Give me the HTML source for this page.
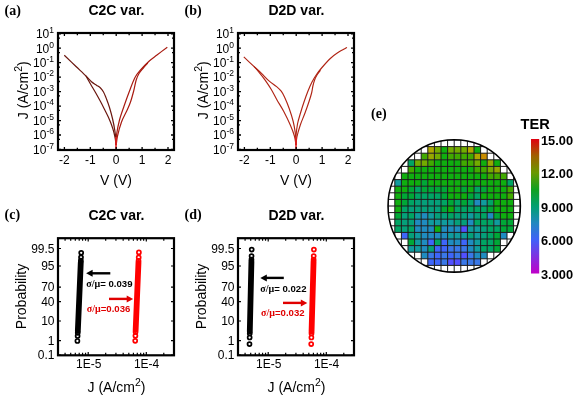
<!DOCTYPE html><html><head><meta charset="utf-8"><style>html,body{margin:0;padding:0;background:#fff;overflow:hidden}svg{display:block;will-change:transform}</style></head><body>
<svg width="575" height="396" viewBox="0 0 575 396">
<rect width="575" height="396" fill="#fff"/>
<text x="4.5" y="14.8" font-family='"Liberation Serif", serif' font-weight="bold" font-size="14">(a)</text>
<text x="116.5" y="14.6" font-family='"Liberation Sans", sans-serif' font-weight="bold" font-size="14" text-anchor="middle">C2C var.</text>
<g fill="none" stroke="#7a140c" stroke-width="1.2" stroke-linejoin="round">
<path d="M64.3,55.3 C66.25,57.17 72.38,63.05 76,66.5 C79.62,69.95 83.42,73.45 86,76 C88.58,78.55 89.75,80.27 91.5,81.8 C93.25,83.33 95,84.17 96.5,85.2 C98,86.23 99.33,86.87 100.5,88 C101.67,89.13 102.5,90.17 103.5,92 C104.5,93.83 105.5,96.42 106.5,99 C107.5,101.58 108.48,104.17 109.5,107.5 C110.52,110.83 111.7,115.08 112.6,119 C113.5,122.92 114.35,127.5 114.9,131 C115.45,134.5 115.72,137.67 115.9,140 C116.08,142.33 115.98,144.17 116,145" stroke="#6a160e"/>
<path d="M86,76 C86.75,77.33 88.92,81.25 90.5,84 C92.08,86.75 93.83,89.58 95.5,92.5 C97.17,95.42 98.98,98.67 100.5,101.5 C102.02,104.33 103.3,106.92 104.6,109.5 C105.9,112.08 107.17,114.5 108.3,117 C109.43,119.5 110.48,122 111.4,124.5 C112.32,127 113.15,129.58 113.8,132 C114.45,134.42 114.93,136.83 115.3,139 C115.67,141.17 115.88,144 116,145" stroke="#6a160e"/>
<path d="M116,145 C116.1,143.23 116.02,138.57 116.6,134.4 C117.18,130.23 118.28,124.65 119.5,120 C120.72,115.35 122.23,111.33 123.9,106.5 C125.57,101.67 127.65,95.83 129.5,91 C131.35,86.17 133.08,81.08 135,77.5 C136.92,73.92 138.62,72.25 141,69.5 C143.38,66.75 146.63,63.42 149.3,61 C151.97,58.58 154,57.3 157,55 C160,52.7 165.58,48.5 167.3,47.2" stroke="#a81a10"/>
<path d="M116.2,145 C116.42,143.5 116.62,139.83 117.5,136 C118.38,132.17 119.97,126.17 121.5,122 C123.03,117.83 125.2,114.33 126.7,111 C128.2,107.67 129.32,105.42 130.5,102 C131.68,98.58 132.85,94.17 133.8,90.5 C134.75,86.83 135.33,82.83 136.2,80 C137.07,77.17 137.82,75.5 139,73.5 C140.18,71.5 141.83,69.75 143.3,68 C144.77,66.25 147.05,63.83 147.8,63" stroke="#a81a10"/>
<line x1="116" y1="137" x2="116" y2="150" stroke="#e02020" stroke-width="1.6"/>
</g>
<path d="M64.4,150 v-3 M64.4,33 v3 M77.35,150 v-2.2 M77.35,33 v2.2 M90.3,150 v-3 M90.3,33 v3 M103.25,150 v-2.2 M103.25,33 v2.2 M116.2,150 v-3 M116.2,33 v3 M129.15,150 v-2.2 M129.15,33 v2.2 M142.1,150 v-3 M142.1,33 v3 M155.05,150 v-2.2 M155.05,33 v2.2 M168,150 v-3 M168,33 v3 M58,149.49 h3 M174,149.49 h-3 M58,139.38 h2 M174,139.38 h-2 M58,135.02 h3 M174,135.02 h-3 M58,124.91 h2 M174,124.91 h-2 M58,120.55 h3 M174,120.55 h-3 M58,110.44 h2 M174,110.44 h-2 M58,106.08 h3 M174,106.08 h-3 M58,95.97 h2 M174,95.97 h-2 M58,91.61 h3 M174,91.61 h-3 M58,81.5 h2 M174,81.5 h-2 M58,77.14 h3 M174,77.14 h-3 M58,67.03 h2 M174,67.03 h-2 M58,62.67 h3 M174,62.67 h-3 M58,52.56 h2 M174,52.56 h-2 M58,48.2 h3 M174,48.2 h-3 M58,38.09 h2 M174,38.09 h-2 M58,33.73 h3 M174,33.73 h-3" stroke="#000" stroke-width="1.3" fill="none"/>
<rect x="58" y="33" width="116" height="117" fill="none" stroke="#000" stroke-width="2.2"/>
<text x="64.4" y="163.5" font-family='"Liberation Sans", sans-serif' font-size="12" text-anchor="middle">-2</text>
<text x="90.3" y="163.5" font-family='"Liberation Sans", sans-serif' font-size="12" text-anchor="middle">-1</text>
<text x="116.2" y="163.5" font-family='"Liberation Sans", sans-serif' font-size="12" text-anchor="middle">0</text>
<text x="142.1" y="163.5" font-family='"Liberation Sans", sans-serif' font-size="12" text-anchor="middle">1</text>
<text x="168" y="163.5" font-family='"Liberation Sans", sans-serif' font-size="12" text-anchor="middle">2</text>
<text x="54" y="153.79" font-family='"Liberation Sans", sans-serif' font-size="12" text-anchor="end">10<tspan font-size="8.5" dy="-5">-7</tspan></text>
<text x="54" y="139.32" font-family='"Liberation Sans", sans-serif' font-size="12" text-anchor="end">10<tspan font-size="8.5" dy="-5">-6</tspan></text>
<text x="54" y="124.85" font-family='"Liberation Sans", sans-serif' font-size="12" text-anchor="end">10<tspan font-size="8.5" dy="-5">-5</tspan></text>
<text x="54" y="110.38" font-family='"Liberation Sans", sans-serif' font-size="12" text-anchor="end">10<tspan font-size="8.5" dy="-5">-4</tspan></text>
<text x="54" y="95.91" font-family='"Liberation Sans", sans-serif' font-size="12" text-anchor="end">10<tspan font-size="8.5" dy="-5">-3</tspan></text>
<text x="54" y="81.44" font-family='"Liberation Sans", sans-serif' font-size="12" text-anchor="end">10<tspan font-size="8.5" dy="-5">-2</tspan></text>
<text x="54" y="66.97" font-family='"Liberation Sans", sans-serif' font-size="12" text-anchor="end">10<tspan font-size="8.5" dy="-5">-1</tspan></text>
<text x="54" y="52.5" font-family='"Liberation Sans", sans-serif' font-size="12" text-anchor="end">10<tspan font-size="8.5" dy="-5">0</tspan></text>
<text x="54" y="38.03" font-family='"Liberation Sans", sans-serif' font-size="12" text-anchor="end">10<tspan font-size="8.5" dy="-5">1</tspan></text>
<text x="116" y="185" font-family='"Liberation Sans", sans-serif' font-size="14" text-anchor="middle">V (V)</text>
<text transform="translate(28.3,90.2) rotate(-90)" font-family='"Liberation Sans", sans-serif' font-size="14" text-anchor="middle">J (A/cm<tspan font-size="10.5" dy="-6">2</tspan><tspan dy="6">)</tspan></text>
<text x="184.5" y="14.8" font-family='"Liberation Serif", serif' font-weight="bold" font-size="14">(b)</text>
<text x="296.5" y="14.6" font-family='"Liberation Sans", sans-serif' font-weight="bold" font-size="14" text-anchor="middle">D2D var.</text>
<g fill="none" stroke="#b02414" stroke-width="1.15" stroke-linejoin="round">
<path d="M243.8,56.9 C245.48,58.48 250.95,63.65 253.9,66.4 C256.85,69.15 258.98,70.98 261.5,73.4 C264.02,75.82 266.48,78.7 269,80.9 C271.52,83.1 274.57,84.88 276.6,86.6 C278.63,88.32 279.88,89.47 281.2,91.2 C282.52,92.93 283.17,94.12 284.5,97 C285.83,99.88 287.75,104.42 289.2,108.5 C290.65,112.58 292.18,117.42 293.2,121.5 C294.22,125.58 294.85,129.92 295.3,133 C295.75,136.08 295.78,138 295.9,140 C296.02,142 295.98,144.17 296,145"/>
<path d="M253.9,66.4 C254.73,67.35 257,69.78 258.9,72.1 C260.8,74.42 263.23,77.4 265.3,80.3 C267.37,83.2 269.35,86.22 271.3,89.5 C273.25,92.78 274.9,96.3 277,100 C279.1,103.7 281.68,107.53 283.9,111.7 C286.12,115.87 288.55,120.95 290.3,125 C292.05,129.05 293.45,132.67 294.4,136 C295.35,139.33 295.73,143.5 296,145"/>
<path d="M295.8,145 C295.82,143.67 295.62,140.5 295.9,137 C296.18,133.5 296.73,128 297.5,124 C298.27,120 299.42,116.67 300.5,113 C301.58,109.33 302.75,105.67 304,102 C305.25,98.33 306.67,94.33 308,91 C309.33,87.67 310.58,84.75 312,82 C313.42,79.25 314.83,76.92 316.5,74.5 C318.17,72.08 319.7,70.17 322,67.5 C324.3,64.83 327.63,61 330.3,58.5 C332.97,56 335.22,54.32 338,52.5 C340.78,50.68 345.5,48.42 347,47.6"/>
<path d="M296.2,145 C296.32,143.67 296.22,140.33 296.9,137 C297.58,133.67 298.95,129 300.3,125 C301.65,121 303.52,117 305,113 C306.48,109 308.1,104.33 309.2,101 C310.3,97.67 310.98,95.5 311.6,93 C312.22,90.5 312.4,88.17 312.9,86 C313.4,83.83 313.92,81.83 314.6,80 C315.28,78.17 316.02,76.62 317,75 C317.98,73.38 319.92,71.08 320.5,70.3"/>
<line x1="296" y1="137" x2="296" y2="150" stroke="#e02020" stroke-width="1.6"/>
</g>
<path d="M244.4,150 v-3 M244.4,33 v3 M257.35,150 v-2.2 M257.35,33 v2.2 M270.3,150 v-3 M270.3,33 v3 M283.25,150 v-2.2 M283.25,33 v2.2 M296.2,150 v-3 M296.2,33 v3 M309.15,150 v-2.2 M309.15,33 v2.2 M322.1,150 v-3 M322.1,33 v3 M335.05,150 v-2.2 M335.05,33 v2.2 M348,150 v-3 M348,33 v3 M238,149.49 h3 M354,149.49 h-3 M238,139.38 h2 M354,139.38 h-2 M238,135.02 h3 M354,135.02 h-3 M238,124.91 h2 M354,124.91 h-2 M238,120.55 h3 M354,120.55 h-3 M238,110.44 h2 M354,110.44 h-2 M238,106.08 h3 M354,106.08 h-3 M238,95.97 h2 M354,95.97 h-2 M238,91.61 h3 M354,91.61 h-3 M238,81.5 h2 M354,81.5 h-2 M238,77.14 h3 M354,77.14 h-3 M238,67.03 h2 M354,67.03 h-2 M238,62.67 h3 M354,62.67 h-3 M238,52.56 h2 M354,52.56 h-2 M238,48.2 h3 M354,48.2 h-3 M238,38.09 h2 M354,38.09 h-2 M238,33.73 h3 M354,33.73 h-3" stroke="#000" stroke-width="1.3" fill="none"/>
<rect x="238" y="33" width="116" height="117" fill="none" stroke="#000" stroke-width="2.2"/>
<text x="244.4" y="163.5" font-family='"Liberation Sans", sans-serif' font-size="12" text-anchor="middle">-2</text>
<text x="270.3" y="163.5" font-family='"Liberation Sans", sans-serif' font-size="12" text-anchor="middle">-1</text>
<text x="296.2" y="163.5" font-family='"Liberation Sans", sans-serif' font-size="12" text-anchor="middle">0</text>
<text x="322.1" y="163.5" font-family='"Liberation Sans", sans-serif' font-size="12" text-anchor="middle">1</text>
<text x="348" y="163.5" font-family='"Liberation Sans", sans-serif' font-size="12" text-anchor="middle">2</text>
<text x="234" y="153.79" font-family='"Liberation Sans", sans-serif' font-size="12" text-anchor="end">10<tspan font-size="8.5" dy="-5">-7</tspan></text>
<text x="234" y="139.32" font-family='"Liberation Sans", sans-serif' font-size="12" text-anchor="end">10<tspan font-size="8.5" dy="-5">-6</tspan></text>
<text x="234" y="124.85" font-family='"Liberation Sans", sans-serif' font-size="12" text-anchor="end">10<tspan font-size="8.5" dy="-5">-5</tspan></text>
<text x="234" y="110.38" font-family='"Liberation Sans", sans-serif' font-size="12" text-anchor="end">10<tspan font-size="8.5" dy="-5">-4</tspan></text>
<text x="234" y="95.91" font-family='"Liberation Sans", sans-serif' font-size="12" text-anchor="end">10<tspan font-size="8.5" dy="-5">-3</tspan></text>
<text x="234" y="81.44" font-family='"Liberation Sans", sans-serif' font-size="12" text-anchor="end">10<tspan font-size="8.5" dy="-5">-2</tspan></text>
<text x="234" y="66.97" font-family='"Liberation Sans", sans-serif' font-size="12" text-anchor="end">10<tspan font-size="8.5" dy="-5">-1</tspan></text>
<text x="234" y="52.5" font-family='"Liberation Sans", sans-serif' font-size="12" text-anchor="end">10<tspan font-size="8.5" dy="-5">0</tspan></text>
<text x="234" y="38.03" font-family='"Liberation Sans", sans-serif' font-size="12" text-anchor="end">10<tspan font-size="8.5" dy="-5">1</tspan></text>
<text x="296" y="185" font-family='"Liberation Sans", sans-serif' font-size="14" text-anchor="middle">V (V)</text>
<text transform="translate(208.3,90.2) rotate(-90)" font-family='"Liberation Sans", sans-serif' font-size="14" text-anchor="middle">J (A/cm<tspan font-size="10.5" dy="-6">2</tspan><tspan dy="6">)</tspan></text>
<text x="4.5" y="219.3" font-family='"Liberation Serif", serif' font-weight="bold" font-size="14">(c)</text>
<text x="116.5" y="220" font-family='"Liberation Sans", sans-serif' font-weight="bold" font-size="14" text-anchor="middle">C2C var.</text>
<path d="M58,355.02 h3 M174,355.02 h-3 M58,340.66 h3 M174,340.66 h-3 M58,321.02 h3 M174,321.02 h-3 M58,301.69 h3 M174,301.69 h-3 M58,287.07 h3 M174,287.07 h-3 M58,266 h3 M174,266 h-3 M58,248.5 h3 M174,248.5 h-3 M65.08,355.3 v-2.5 M65.08,238.2 v2.5 M70.71,355.3 v-2.5 M70.71,238.2 v2.5 M75.31,355.3 v-2.5 M75.31,238.2 v2.5 M79.2,355.3 v-2.5 M79.2,238.2 v2.5 M82.57,355.3 v-2.5 M82.57,238.2 v2.5 M85.54,355.3 v-2.5 M85.54,238.2 v2.5 M88.2,355.3 v-3.2 M88.2,238.2 v3.2 M105.69,355.3 v-2.5 M105.69,238.2 v2.5 M115.92,355.3 v-2.5 M115.92,238.2 v2.5 M123.18,355.3 v-2.5 M123.18,238.2 v2.5 M128.81,355.3 v-2.5 M128.81,238.2 v2.5 M133.41,355.3 v-2.5 M133.41,238.2 v2.5 M137.3,355.3 v-2.5 M137.3,238.2 v2.5 M140.67,355.3 v-2.5 M140.67,238.2 v2.5 M143.64,355.3 v-2.5 M143.64,238.2 v2.5 M146.3,355.3 v-3.2 M146.3,238.2 v3.2 M163.79,355.3 v-2.5 M163.79,238.2 v2.5" stroke="#000" stroke-width="1.2" fill="none"/>
<rect x="58" y="238.2" width="116" height="117.1" fill="none" stroke="#000" stroke-width="2.2"/>
<text x="54.5" y="359.32" font-family='"Liberation Sans", sans-serif' font-size="12" text-anchor="end">0.1</text>
<text x="54.5" y="344.96" font-family='"Liberation Sans", sans-serif' font-size="12" text-anchor="end">1</text>
<text x="54.5" y="325.32" font-family='"Liberation Sans", sans-serif' font-size="12" text-anchor="end">10</text>
<text x="54.5" y="305.99" font-family='"Liberation Sans", sans-serif' font-size="12" text-anchor="end">40</text>
<text x="54.5" y="291.37" font-family='"Liberation Sans", sans-serif' font-size="12" text-anchor="end">70</text>
<text x="54.5" y="270.3" font-family='"Liberation Sans", sans-serif' font-size="12" text-anchor="end">95</text>
<text x="54.5" y="252.8" font-family='"Liberation Sans", sans-serif' font-size="12" text-anchor="end">99.5</text>
<text x="88.7" y="368.3" font-family='"Liberation Sans", sans-serif' font-size="12" text-anchor="middle">1E-5</text>
<text x="146.6" y="368.3" font-family='"Liberation Sans", sans-serif' font-size="12" text-anchor="middle">1E-4</text>
<text x="116.5" y="392" font-family='"Liberation Sans", sans-serif' font-size="14" text-anchor="middle">J (A/cm<tspan font-size="10.5" dy="-6">2</tspan><tspan dy="6">)</tspan></text>
<text transform="translate(25.6,296.5) rotate(-90)" font-family='"Liberation Sans", sans-serif' font-size="14" text-anchor="middle">Probability</text>
<g fill="none" stroke="#000" stroke-width="1.7"><circle cx="81.2" cy="252.8" r="2.0"/><circle cx="81.01" cy="257.3" r="2.0"/><circle cx="80.86" cy="260.7" r="2.0"/><circle cx="77.4" cy="341" r="2.0"/><circle cx="77.62" cy="336" r="2.0"/><circle cx="77.75" cy="332.8" r="2.0"/><path d="M80.77,262.7 L77.84,330.8" stroke-width="5.8" stroke-linecap="round"/></g>
<g fill="none" stroke="#f00" stroke-width="1.7"><circle cx="138.9" cy="252.4" r="2.0"/><circle cx="138.69" cy="257.4" r="2.0"/><circle cx="138.54" cy="260.9" r="2.0"/><circle cx="135.2" cy="340.8" r="2.0"/><circle cx="135.41" cy="335.8" r="2.0"/><circle cx="135.57" cy="332" r="2.0"/><path d="M138.46,262.9 L135.65,330" stroke-width="5.8" stroke-linecap="round"/></g>
<path d="M110.3,273.3 H91.1" stroke="#000" stroke-width="2.4"/>
<path d="M86.1,273.3 L92.6,269.8 L92.6,276.8 Z" fill="#000"/>
<path d="M109,298.9 H128.2" stroke="#e00000" stroke-width="2.4"/>
<path d="M133.2,298.9 L126.7,295.4 L126.7,302.4 Z" fill="#e00000"/>
<text x="86.3" y="287.1" font-family='"Liberation Sans", sans-serif' font-size="9.6" font-weight="bold" fill="#000"><tspan font-family='"Liberation Serif", serif' font-size="10">σ/μ</tspan>= 0.039</text>
<text x="86.8" y="311.9" font-family='"Liberation Sans", sans-serif' font-size="9.6" font-weight="bold" fill="#e00000"><tspan font-family='"Liberation Serif", serif' font-size="10">σ/μ</tspan>=0.036</text>
<text x="184.5" y="219.3" font-family='"Liberation Serif", serif' font-weight="bold" font-size="14">(d)</text>
<text x="296.5" y="220" font-family='"Liberation Sans", sans-serif' font-weight="bold" font-size="14" text-anchor="middle">D2D var.</text>
<path d="M238,355.02 h3 M354,355.02 h-3 M238,340.66 h3 M354,340.66 h-3 M238,321.02 h3 M354,321.02 h-3 M238,301.69 h3 M354,301.69 h-3 M238,287.07 h3 M354,287.07 h-3 M238,266 h3 M354,266 h-3 M238,248.5 h3 M354,248.5 h-3 M245.08,355.3 v-2.5 M245.08,238.2 v2.5 M250.71,355.3 v-2.5 M250.71,238.2 v2.5 M255.31,355.3 v-2.5 M255.31,238.2 v2.5 M259.2,355.3 v-2.5 M259.2,238.2 v2.5 M262.57,355.3 v-2.5 M262.57,238.2 v2.5 M265.54,355.3 v-2.5 M265.54,238.2 v2.5 M268.2,355.3 v-3.2 M268.2,238.2 v3.2 M285.69,355.3 v-2.5 M285.69,238.2 v2.5 M295.92,355.3 v-2.5 M295.92,238.2 v2.5 M303.18,355.3 v-2.5 M303.18,238.2 v2.5 M308.81,355.3 v-2.5 M308.81,238.2 v2.5 M313.41,355.3 v-2.5 M313.41,238.2 v2.5 M317.3,355.3 v-2.5 M317.3,238.2 v2.5 M320.67,355.3 v-2.5 M320.67,238.2 v2.5 M323.64,355.3 v-2.5 M323.64,238.2 v2.5 M326.3,355.3 v-3.2 M326.3,238.2 v3.2 M343.79,355.3 v-2.5 M343.79,238.2 v2.5" stroke="#000" stroke-width="1.2" fill="none"/>
<rect x="238" y="238.2" width="116" height="117.1" fill="none" stroke="#000" stroke-width="2.2"/>
<text x="234.5" y="359.32" font-family='"Liberation Sans", sans-serif' font-size="12" text-anchor="end">0.1</text>
<text x="234.5" y="344.96" font-family='"Liberation Sans", sans-serif' font-size="12" text-anchor="end">1</text>
<text x="234.5" y="325.32" font-family='"Liberation Sans", sans-serif' font-size="12" text-anchor="end">10</text>
<text x="234.5" y="305.99" font-family='"Liberation Sans", sans-serif' font-size="12" text-anchor="end">40</text>
<text x="234.5" y="291.37" font-family='"Liberation Sans", sans-serif' font-size="12" text-anchor="end">70</text>
<text x="234.5" y="270.3" font-family='"Liberation Sans", sans-serif' font-size="12" text-anchor="end">95</text>
<text x="234.5" y="252.8" font-family='"Liberation Sans", sans-serif' font-size="12" text-anchor="end">99.5</text>
<text x="268.7" y="368.3" font-family='"Liberation Sans", sans-serif' font-size="12" text-anchor="middle">1E-5</text>
<text x="326.6" y="368.3" font-family='"Liberation Sans", sans-serif' font-size="12" text-anchor="middle">1E-4</text>
<text x="296.5" y="392" font-family='"Liberation Sans", sans-serif' font-size="14" text-anchor="middle">J (A/cm<tspan font-size="10.5" dy="-6">2</tspan><tspan dy="6">)</tspan></text>
<text transform="translate(205.6,296.5) rotate(-90)" font-family='"Liberation Sans", sans-serif' font-size="14" text-anchor="middle">Probability</text>
<g fill="none" stroke="#000" stroke-width="1.7"><circle cx="251.7" cy="249.6" r="2.0"/><circle cx="251.55" cy="256.1" r="2.0"/><circle cx="251.47" cy="259.6" r="2.0"/><circle cx="249.5" cy="344.1" r="2.0"/><circle cx="249.65" cy="337.5" r="2.0"/><circle cx="249.75" cy="333.4" r="2.0"/><path d="M251.42,261.6 L249.8,331.4" stroke-width="5.8" stroke-linecap="round"/></g>
<g fill="none" stroke="#f00" stroke-width="1.7"><circle cx="313.9" cy="249.6" r="2.0"/><circle cx="313.71" cy="256.1" r="2.0"/><circle cx="313.61" cy="259.6" r="2.0"/><circle cx="311.2" cy="344.1" r="2.0"/><circle cx="311.39" cy="337.5" r="2.0"/><circle cx="311.51" cy="333.4" r="2.0"/><path d="M313.56,261.6 L311.56,331.4" stroke-width="5.8" stroke-linecap="round"/></g>
<path d="M283.8,277.9 H265.3" stroke="#000" stroke-width="2.4"/>
<path d="M260.3,277.9 L266.8,274.4 L266.8,281.4 Z" fill="#000"/>
<path d="M283,302.9 H302.3" stroke="#e00000" stroke-width="2.4"/>
<path d="M307.3,302.9 L300.8,299.4 L300.8,306.4 Z" fill="#e00000"/>
<text x="260.3" y="291.5" font-family='"Liberation Sans", sans-serif' font-size="9.6" font-weight="bold" fill="#000"><tspan font-family='"Liberation Serif", serif' font-size="10">σ/μ</tspan>= 0.022</text>
<text x="261.1" y="315.8" font-family='"Liberation Sans", sans-serif' font-size="9.6" font-weight="bold" fill="#e00000"><tspan font-family='"Liberation Serif", serif' font-size="10">σ/μ</tspan>=0.032</text>
<defs><clipPath id="wc"><circle cx="454.2" cy="206" r="66.2"/></clipPath>
<linearGradient id="cb" x1="0" y1="1" x2="0" y2="0"><stop offset="0" stop-color="#c000c8"/><stop offset="0.125" stop-color="#8030e0"/><stop offset="0.25" stop-color="#4060f8"/><stop offset="0.375" stop-color="#2088c0"/><stop offset="0.5" stop-color="#00a070"/><stop offset="0.625" stop-color="#10a020"/><stop offset="0.75" stop-color="#6a9800"/><stop offset="0.875" stop-color="#a06000"/><stop offset="1" stop-color="#e00010"/></linearGradient></defs>
<g clip-path="url(#wc)">
<circle cx="454.2" cy="206" r="66.2" fill="#fff"/>
<rect x="427.8" y="146.6" width="6.6" height="6.6" fill="#afa800"/><rect x="434.4" y="146.6" width="6.6" height="6.6" fill="#73ac00"/><rect x="441" y="146.6" width="6.6" height="6.6" fill="#0faf0f"/><rect x="447.6" y="146.6" width="6.6" height="6.6" fill="#73ac00"/><rect x="454.2" y="146.6" width="6.6" height="6.6" fill="#73ac00"/><rect x="460.8" y="146.6" width="6.6" height="6.6" fill="#73ac00"/><rect x="467.4" y="146.6" width="6.6" height="6.6" fill="#afa800"/><rect x="474" y="146.6" width="6.6" height="6.6" fill="#0faf0f"/><rect x="421.2" y="153.2" width="6.6" height="6.6" fill="#41aa00"/><rect x="427.8" y="153.2" width="6.6" height="6.6" fill="#96a800"/><rect x="434.4" y="153.2" width="6.6" height="6.6" fill="#73ac00"/><rect x="441" y="153.2" width="6.6" height="6.6" fill="#0faf0f"/><rect x="447.6" y="153.2" width="6.6" height="6.6" fill="#41aa00"/><rect x="454.2" y="153.2" width="6.6" height="6.6" fill="#41aa00"/><rect x="460.8" y="153.2" width="6.6" height="6.6" fill="#41aa00"/><rect x="467.4" y="153.2" width="6.6" height="6.6" fill="#41aa00"/><rect x="474" y="153.2" width="6.6" height="6.6" fill="#afa800"/><rect x="480.6" y="153.2" width="6.6" height="6.6" fill="#c88c00"/><rect x="408" y="159.8" width="6.6" height="6.6" fill="#00a564"/><rect x="414.6" y="159.8" width="6.6" height="6.6" fill="#73ac00"/><rect x="421.2" y="159.8" width="6.6" height="6.6" fill="#73ac00"/><rect x="427.8" y="159.8" width="6.6" height="6.6" fill="#41aa00"/><rect x="434.4" y="159.8" width="6.6" height="6.6" fill="#0faf0f"/><rect x="441" y="159.8" width="6.6" height="6.6" fill="#0faf0f"/><rect x="447.6" y="159.8" width="6.6" height="6.6" fill="#0faf0f"/><rect x="454.2" y="159.8" width="6.6" height="6.6" fill="#0faf0f"/><rect x="460.8" y="159.8" width="6.6" height="6.6" fill="#41aa00"/><rect x="467.4" y="159.8" width="6.6" height="6.6" fill="#41aa00"/><rect x="474" y="159.8" width="6.6" height="6.6" fill="#73ac00"/><rect x="480.6" y="159.8" width="6.6" height="6.6" fill="#0faf0f"/><rect x="487.2" y="159.8" width="6.6" height="6.6" fill="#96a800"/><rect x="493.8" y="159.8" width="6.6" height="6.6" fill="#0faf0f"/><rect x="408" y="166.4" width="6.6" height="6.6" fill="#41aa00"/><rect x="414.6" y="166.4" width="6.6" height="6.6" fill="#0faf0f"/><rect x="421.2" y="166.4" width="6.6" height="6.6" fill="#0faf0f"/><rect x="427.8" y="166.4" width="6.6" height="6.6" fill="#0faf0f"/><rect x="434.4" y="166.4" width="6.6" height="6.6" fill="#0faf0f"/><rect x="441" y="166.4" width="6.6" height="6.6" fill="#0faf0f"/><rect x="447.6" y="166.4" width="6.6" height="6.6" fill="#0faf0f"/><rect x="454.2" y="166.4" width="6.6" height="6.6" fill="#0faf0f"/><rect x="460.8" y="166.4" width="6.6" height="6.6" fill="#0faf0f"/><rect x="467.4" y="166.4" width="6.6" height="6.6" fill="#0faf0f"/><rect x="474" y="166.4" width="6.6" height="6.6" fill="#41aa00"/><rect x="480.6" y="166.4" width="6.6" height="6.6" fill="#41aa00"/><rect x="487.2" y="166.4" width="6.6" height="6.6" fill="#73ac00"/><rect x="493.8" y="166.4" width="6.6" height="6.6" fill="#96a800"/><rect x="401.4" y="173" width="6.6" height="6.6" fill="#0faf0f"/><rect x="408" y="173" width="6.6" height="6.6" fill="#0faf0f"/><rect x="414.6" y="173" width="6.6" height="6.6" fill="#0faf0f"/><rect x="421.2" y="173" width="6.6" height="6.6" fill="#0faf0f"/><rect x="427.8" y="173" width="6.6" height="6.6" fill="#0faf0f"/><rect x="434.4" y="173" width="6.6" height="6.6" fill="#0faf0f"/><rect x="441" y="173" width="6.6" height="6.6" fill="#0faf0f"/><rect x="447.6" y="173" width="6.6" height="6.6" fill="#0faf0f"/><rect x="454.2" y="173" width="6.6" height="6.6" fill="#0faf0f"/><rect x="460.8" y="173" width="6.6" height="6.6" fill="#0faf0f"/><rect x="467.4" y="173" width="6.6" height="6.6" fill="#0faf0f"/><rect x="474" y="173" width="6.6" height="6.6" fill="#0faf0f"/><rect x="480.6" y="173" width="6.6" height="6.6" fill="#0faf0f"/><rect x="487.2" y="173" width="6.6" height="6.6" fill="#41aa00"/><rect x="493.8" y="173" width="6.6" height="6.6" fill="#41aa00"/><rect x="500.4" y="173" width="6.6" height="6.6" fill="#41aa00"/><rect x="394.8" y="179.6" width="6.6" height="6.6" fill="#109c9e"/><rect x="401.4" y="179.6" width="6.6" height="6.6" fill="#0faf0f"/><rect x="408" y="179.6" width="6.6" height="6.6" fill="#0faf0f"/><rect x="414.6" y="179.6" width="6.6" height="6.6" fill="#0faf0f"/><rect x="421.2" y="179.6" width="6.6" height="6.6" fill="#00a837"/><rect x="427.8" y="179.6" width="6.6" height="6.6" fill="#0faf0f"/><rect x="434.4" y="179.6" width="6.6" height="6.6" fill="#0faf0f"/><rect x="441" y="179.6" width="6.6" height="6.6" fill="#0faf0f"/><rect x="447.6" y="179.6" width="6.6" height="6.6" fill="#0faf0f"/><rect x="454.2" y="179.6" width="6.6" height="6.6" fill="#0faf0f"/><rect x="460.8" y="179.6" width="6.6" height="6.6" fill="#0faf0f"/><rect x="467.4" y="179.6" width="6.6" height="6.6" fill="#0faf0f"/><rect x="474" y="179.6" width="6.6" height="6.6" fill="#0faf0f"/><rect x="480.6" y="179.6" width="6.6" height="6.6" fill="#0faf0f"/><rect x="487.2" y="179.6" width="6.6" height="6.6" fill="#0faf0f"/><rect x="493.8" y="179.6" width="6.6" height="6.6" fill="#0faf0f"/><rect x="500.4" y="179.6" width="6.6" height="6.6" fill="#0faf0f"/><rect x="507" y="179.6" width="6.6" height="6.6" fill="#00a564"/><rect x="394.8" y="186.2" width="6.6" height="6.6" fill="#0faf0f"/><rect x="401.4" y="186.2" width="6.6" height="6.6" fill="#0faf0f"/><rect x="408" y="186.2" width="6.6" height="6.6" fill="#00a837"/><rect x="414.6" y="186.2" width="6.6" height="6.6" fill="#00a564"/><rect x="421.2" y="186.2" width="6.6" height="6.6" fill="#00a837"/><rect x="427.8" y="186.2" width="6.6" height="6.6" fill="#00a837"/><rect x="434.4" y="186.2" width="6.6" height="6.6" fill="#00a837"/><rect x="441" y="186.2" width="6.6" height="6.6" fill="#00a837"/><rect x="447.6" y="186.2" width="6.6" height="6.6" fill="#0faf0f"/><rect x="454.2" y="186.2" width="6.6" height="6.6" fill="#0faf0f"/><rect x="460.8" y="186.2" width="6.6" height="6.6" fill="#00a837"/><rect x="467.4" y="186.2" width="6.6" height="6.6" fill="#0faf0f"/><rect x="474" y="186.2" width="6.6" height="6.6" fill="#00a564"/><rect x="480.6" y="186.2" width="6.6" height="6.6" fill="#00a837"/><rect x="487.2" y="186.2" width="6.6" height="6.6" fill="#0faf0f"/><rect x="493.8" y="186.2" width="6.6" height="6.6" fill="#0faf0f"/><rect x="500.4" y="186.2" width="6.6" height="6.6" fill="#0faf0f"/><rect x="507" y="186.2" width="6.6" height="6.6" fill="#41aa00"/><rect x="394.8" y="192.8" width="6.6" height="6.6" fill="#0faf0f"/><rect x="401.4" y="192.8" width="6.6" height="6.6" fill="#00a837"/><rect x="408" y="192.8" width="6.6" height="6.6" fill="#00a837"/><rect x="414.6" y="192.8" width="6.6" height="6.6" fill="#00a564"/><rect x="421.2" y="192.8" width="6.6" height="6.6" fill="#00a564"/><rect x="427.8" y="192.8" width="6.6" height="6.6" fill="#00a564"/><rect x="434.4" y="192.8" width="6.6" height="6.6" fill="#00a564"/><rect x="441" y="192.8" width="6.6" height="6.6" fill="#00a837"/><rect x="447.6" y="192.8" width="6.6" height="6.6" fill="#0faf0f"/><rect x="454.2" y="192.8" width="6.6" height="6.6" fill="#0faf0f"/><rect x="460.8" y="192.8" width="6.6" height="6.6" fill="#0faf0f"/><rect x="467.4" y="192.8" width="6.6" height="6.6" fill="#00a837"/><rect x="474" y="192.8" width="6.6" height="6.6" fill="#00a564"/><rect x="480.6" y="192.8" width="6.6" height="6.6" fill="#0faf0f"/><rect x="487.2" y="192.8" width="6.6" height="6.6" fill="#0faf0f"/><rect x="493.8" y="192.8" width="6.6" height="6.6" fill="#0faf0f"/><rect x="500.4" y="192.8" width="6.6" height="6.6" fill="#0faf0f"/><rect x="507" y="192.8" width="6.6" height="6.6" fill="#41aa00"/><rect x="394.8" y="199.4" width="6.6" height="6.6" fill="#0faf0f"/><rect x="401.4" y="199.4" width="6.6" height="6.6" fill="#00a837"/><rect x="408" y="199.4" width="6.6" height="6.6" fill="#00a564"/><rect x="414.6" y="199.4" width="6.6" height="6.6" fill="#05a07a"/><rect x="421.2" y="199.4" width="6.6" height="6.6" fill="#05a07a"/><rect x="427.8" y="199.4" width="6.6" height="6.6" fill="#05a07a"/><rect x="434.4" y="199.4" width="6.6" height="6.6" fill="#05a07a"/><rect x="441" y="199.4" width="6.6" height="6.6" fill="#00a564"/><rect x="447.6" y="199.4" width="6.6" height="6.6" fill="#00a837"/><rect x="454.2" y="199.4" width="6.6" height="6.6" fill="#00a564"/><rect x="460.8" y="199.4" width="6.6" height="6.6" fill="#00a837"/><rect x="467.4" y="199.4" width="6.6" height="6.6" fill="#00a564"/><rect x="474" y="199.4" width="6.6" height="6.6" fill="#1f8cc0"/><rect x="480.6" y="199.4" width="6.6" height="6.6" fill="#109c9e"/><rect x="487.2" y="199.4" width="6.6" height="6.6" fill="#00a564"/><rect x="493.8" y="199.4" width="6.6" height="6.6" fill="#0faf0f"/><rect x="500.4" y="199.4" width="6.6" height="6.6" fill="#0faf0f"/><rect x="507" y="199.4" width="6.6" height="6.6" fill="#0faf0f"/><rect x="394.8" y="206" width="6.6" height="6.6" fill="#0faf0f"/><rect x="401.4" y="206" width="6.6" height="6.6" fill="#00a564"/><rect x="408" y="206" width="6.6" height="6.6" fill="#05a07a"/><rect x="414.6" y="206" width="6.6" height="6.6" fill="#05a07a"/><rect x="421.2" y="206" width="6.6" height="6.6" fill="#05a07a"/><rect x="427.8" y="206" width="6.6" height="6.6" fill="#05a07a"/><rect x="434.4" y="206" width="6.6" height="6.6" fill="#05a07a"/><rect x="441" y="206" width="6.6" height="6.6" fill="#00a837"/><rect x="447.6" y="206" width="6.6" height="6.6" fill="#0faf0f"/><rect x="454.2" y="206" width="6.6" height="6.6" fill="#00a564"/><rect x="460.8" y="206" width="6.6" height="6.6" fill="#00a564"/><rect x="467.4" y="206" width="6.6" height="6.6" fill="#00a564"/><rect x="474" y="206" width="6.6" height="6.6" fill="#00a564"/><rect x="480.6" y="206" width="6.6" height="6.6" fill="#00a564"/><rect x="487.2" y="206" width="6.6" height="6.6" fill="#00a837"/><rect x="493.8" y="206" width="6.6" height="6.6" fill="#0faf0f"/><rect x="500.4" y="206" width="6.6" height="6.6" fill="#0faf0f"/><rect x="507" y="206" width="6.6" height="6.6" fill="#0faf0f"/><rect x="394.8" y="212.6" width="6.6" height="6.6" fill="#00a837"/><rect x="401.4" y="212.6" width="6.6" height="6.6" fill="#05a07a"/><rect x="408" y="212.6" width="6.6" height="6.6" fill="#00a564"/><rect x="414.6" y="212.6" width="6.6" height="6.6" fill="#109c9e"/><rect x="421.2" y="212.6" width="6.6" height="6.6" fill="#1f8cc0"/><rect x="427.8" y="212.6" width="6.6" height="6.6" fill="#109c9e"/><rect x="434.4" y="212.6" width="6.6" height="6.6" fill="#05a07a"/><rect x="441" y="212.6" width="6.6" height="6.6" fill="#05a07a"/><rect x="447.6" y="212.6" width="6.6" height="6.6" fill="#00a564"/><rect x="454.2" y="212.6" width="6.6" height="6.6" fill="#05a07a"/><rect x="460.8" y="212.6" width="6.6" height="6.6" fill="#05a07a"/><rect x="467.4" y="212.6" width="6.6" height="6.6" fill="#109c9e"/><rect x="474" y="212.6" width="6.6" height="6.6" fill="#05a07a"/><rect x="480.6" y="212.6" width="6.6" height="6.6" fill="#00a564"/><rect x="487.2" y="212.6" width="6.6" height="6.6" fill="#1f8cc0"/><rect x="493.8" y="212.6" width="6.6" height="6.6" fill="#00a837"/><rect x="500.4" y="212.6" width="6.6" height="6.6" fill="#0faf0f"/><rect x="507" y="212.6" width="6.6" height="6.6" fill="#0faf0f"/><rect x="394.8" y="219.2" width="6.6" height="6.6" fill="#00a564"/><rect x="401.4" y="219.2" width="6.6" height="6.6" fill="#05a07a"/><rect x="408" y="219.2" width="6.6" height="6.6" fill="#05a07a"/><rect x="414.6" y="219.2" width="6.6" height="6.6" fill="#1f8cc0"/><rect x="421.2" y="219.2" width="6.6" height="6.6" fill="#1f8cc0"/><rect x="427.8" y="219.2" width="6.6" height="6.6" fill="#109c9e"/><rect x="434.4" y="219.2" width="6.6" height="6.6" fill="#109c9e"/><rect x="441" y="219.2" width="6.6" height="6.6" fill="#109c9e"/><rect x="447.6" y="219.2" width="6.6" height="6.6" fill="#109c9e"/><rect x="454.2" y="219.2" width="6.6" height="6.6" fill="#05a07a"/><rect x="460.8" y="219.2" width="6.6" height="6.6" fill="#05a07a"/><rect x="467.4" y="219.2" width="6.6" height="6.6" fill="#1f8cc0"/><rect x="474" y="219.2" width="6.6" height="6.6" fill="#00a564"/><rect x="480.6" y="219.2" width="6.6" height="6.6" fill="#00a564"/><rect x="487.2" y="219.2" width="6.6" height="6.6" fill="#00a564"/><rect x="493.8" y="219.2" width="6.6" height="6.6" fill="#109c9e"/><rect x="500.4" y="219.2" width="6.6" height="6.6" fill="#00a837"/><rect x="507" y="219.2" width="6.6" height="6.6" fill="#00a837"/><rect x="394.8" y="225.8" width="6.6" height="6.6" fill="#00a564"/><rect x="401.4" y="225.8" width="6.6" height="6.6" fill="#05a07a"/><rect x="408" y="225.8" width="6.6" height="6.6" fill="#00a564"/><rect x="414.6" y="225.8" width="6.6" height="6.6" fill="#1f8cc0"/><rect x="421.2" y="225.8" width="6.6" height="6.6" fill="#1f8cc0"/><rect x="427.8" y="225.8" width="6.6" height="6.6" fill="#1f8cc0"/><rect x="434.4" y="225.8" width="6.6" height="6.6" fill="#0faf0f"/><rect x="441" y="225.8" width="6.6" height="6.6" fill="#1f8cc0"/><rect x="447.6" y="225.8" width="6.6" height="6.6" fill="#1f8cc0"/><rect x="454.2" y="225.8" width="6.6" height="6.6" fill="#1f8cc0"/><rect x="460.8" y="225.8" width="6.6" height="6.6" fill="#5250ff"/><rect x="467.4" y="225.8" width="6.6" height="6.6" fill="#109c9e"/><rect x="474" y="225.8" width="6.6" height="6.6" fill="#109c9e"/><rect x="480.6" y="225.8" width="6.6" height="6.6" fill="#05a07a"/><rect x="487.2" y="225.8" width="6.6" height="6.6" fill="#00a564"/><rect x="493.8" y="225.8" width="6.6" height="6.6" fill="#00a564"/><rect x="500.4" y="225.8" width="6.6" height="6.6" fill="#00a837"/><rect x="507" y="225.8" width="6.6" height="6.6" fill="#00a837"/><rect x="401.4" y="232.4" width="6.6" height="6.6" fill="#3e66fa"/><rect x="408" y="232.4" width="6.6" height="6.6" fill="#05a07a"/><rect x="414.6" y="232.4" width="6.6" height="6.6" fill="#109c9e"/><rect x="421.2" y="232.4" width="6.6" height="6.6" fill="#1f8cc0"/><rect x="427.8" y="232.4" width="6.6" height="6.6" fill="#1f8cc0"/><rect x="434.4" y="232.4" width="6.6" height="6.6" fill="#1f8cc0"/><rect x="441" y="232.4" width="6.6" height="6.6" fill="#1f8cc0"/><rect x="447.6" y="232.4" width="6.6" height="6.6" fill="#109c9e"/><rect x="454.2" y="232.4" width="6.6" height="6.6" fill="#109c9e"/><rect x="460.8" y="232.4" width="6.6" height="6.6" fill="#109c9e"/><rect x="467.4" y="232.4" width="6.6" height="6.6" fill="#05a07a"/><rect x="474" y="232.4" width="6.6" height="6.6" fill="#109c9e"/><rect x="480.6" y="232.4" width="6.6" height="6.6" fill="#05a07a"/><rect x="487.2" y="232.4" width="6.6" height="6.6" fill="#00a564"/><rect x="493.8" y="232.4" width="6.6" height="6.6" fill="#00a837"/><rect x="500.4" y="232.4" width="6.6" height="6.6" fill="#1f8cc0"/><rect x="408" y="239" width="6.6" height="6.6" fill="#00a837"/><rect x="414.6" y="239" width="6.6" height="6.6" fill="#109c9e"/><rect x="421.2" y="239" width="6.6" height="6.6" fill="#1f8cc0"/><rect x="427.8" y="239" width="6.6" height="6.6" fill="#3e66fa"/><rect x="434.4" y="239" width="6.6" height="6.6" fill="#00a564"/><rect x="441" y="239" width="6.6" height="6.6" fill="#3e66fa"/><rect x="447.6" y="239" width="6.6" height="6.6" fill="#1f8cc0"/><rect x="454.2" y="239" width="6.6" height="6.6" fill="#1f8cc0"/><rect x="460.8" y="239" width="6.6" height="6.6" fill="#3e66fa"/><rect x="467.4" y="239" width="6.6" height="6.6" fill="#1f8cc0"/><rect x="474" y="239" width="6.6" height="6.6" fill="#109c9e"/><rect x="480.6" y="239" width="6.6" height="6.6" fill="#00a564"/><rect x="487.2" y="239" width="6.6" height="6.6" fill="#00a564"/><rect x="493.8" y="239" width="6.6" height="6.6" fill="#00a837"/><rect x="408" y="245.6" width="6.6" height="6.6" fill="#109c9e"/><rect x="414.6" y="245.6" width="6.6" height="6.6" fill="#109c9e"/><rect x="421.2" y="245.6" width="6.6" height="6.6" fill="#1f8cc0"/><rect x="427.8" y="245.6" width="6.6" height="6.6" fill="#05a07a"/><rect x="434.4" y="245.6" width="6.6" height="6.6" fill="#3e66fa"/><rect x="441" y="245.6" width="6.6" height="6.6" fill="#3e66fa"/><rect x="447.6" y="245.6" width="6.6" height="6.6" fill="#3a78e8"/><rect x="454.2" y="245.6" width="6.6" height="6.6" fill="#3a78e8"/><rect x="460.8" y="245.6" width="6.6" height="6.6" fill="#3a78e8"/><rect x="467.4" y="245.6" width="6.6" height="6.6" fill="#1f8cc0"/><rect x="474" y="245.6" width="6.6" height="6.6" fill="#109c9e"/><rect x="480.6" y="245.6" width="6.6" height="6.6" fill="#00a564"/><rect x="487.2" y="245.6" width="6.6" height="6.6" fill="#00a564"/><rect x="493.8" y="245.6" width="6.6" height="6.6" fill="#00a837"/><rect x="421.2" y="252.2" width="6.6" height="6.6" fill="#1f8cc0"/><rect x="427.8" y="252.2" width="6.6" height="6.6" fill="#3a78e8"/><rect x="434.4" y="252.2" width="6.6" height="6.6" fill="#3e66fa"/><rect x="441" y="252.2" width="6.6" height="6.6" fill="#3a78e8"/><rect x="447.6" y="252.2" width="6.6" height="6.6" fill="#3e66fa"/><rect x="454.2" y="252.2" width="6.6" height="6.6" fill="#3a78e8"/><rect x="460.8" y="252.2" width="6.6" height="6.6" fill="#5250ff"/><rect x="467.4" y="252.2" width="6.6" height="6.6" fill="#3a78e8"/><rect x="474" y="252.2" width="6.6" height="6.6" fill="#1f8cc0"/><rect x="480.6" y="252.2" width="6.6" height="6.6" fill="#1f8cc0"/><rect x="427.8" y="258.8" width="6.6" height="6.6" fill="#3e66fa"/><rect x="434.4" y="258.8" width="6.6" height="6.6" fill="#3e66fa"/><rect x="441" y="258.8" width="6.6" height="6.6" fill="#3a78e8"/><rect x="447.6" y="258.8" width="6.6" height="6.6" fill="#5250ff"/><rect x="454.2" y="258.8" width="6.6" height="6.6" fill="#5250ff"/><rect x="460.8" y="258.8" width="6.6" height="6.6" fill="#3a78e8"/><rect x="467.4" y="258.8" width="6.6" height="6.6" fill="#3a78e8"/><rect x="474" y="258.8" width="6.6" height="6.6" fill="#3a78e8"/>
<path d="M388.2,140 V272 M388.2,140 H520.2 M394.8,140 V272 M388.2,146.6 H520.2 M401.4,140 V272 M388.2,153.2 H520.2 M408,140 V272 M388.2,159.8 H520.2 M414.6,140 V272 M388.2,166.4 H520.2 M421.2,140 V272 M388.2,173 H520.2 M427.8,140 V272 M388.2,179.6 H520.2 M434.4,140 V272 M388.2,186.2 H520.2 M441,140 V272 M388.2,192.8 H520.2 M447.6,140 V272 M388.2,199.4 H520.2 M454.2,140 V272 M388.2,206 H520.2 M460.8,140 V272 M388.2,212.6 H520.2 M467.4,140 V272 M388.2,219.2 H520.2 M474,140 V272 M388.2,225.8 H520.2 M480.6,140 V272 M388.2,232.4 H520.2 M487.2,140 V272 M388.2,239 H520.2 M493.8,140 V272 M388.2,245.6 H520.2 M500.4,140 V272 M388.2,252.2 H520.2 M507,140 V272 M388.2,258.8 H520.2 M513.6,140 V272 M388.2,265.4 H520.2 M520.2,140 V272 M388.2,272 H520.2" stroke="#1a1a1a" stroke-width="1.0" fill="none"/>
</g>
<circle cx="454.2" cy="206" r="66.2" fill="none" stroke="#000" stroke-width="1.5"/>
<text x="371" y="117.7" font-family='"Liberation Serif", serif' font-weight="bold" font-size="14">(e)</text>
<text x="520.5" y="128.5" font-family='"Liberation Sans", sans-serif' font-weight="bold" font-size="14.6">TER</text>
<rect x="531" y="139" width="8.2" height="134.5" fill="url(#cb)"/>
<text x="541" y="144.5" font-family='"Liberation Sans", sans-serif' font-weight="bold" font-size="12.8">15.00</text>
<text x="541" y="178" font-family='"Liberation Sans", sans-serif' font-weight="bold" font-size="12.8">12.00</text>
<text x="541" y="211.5" font-family='"Liberation Sans", sans-serif' font-weight="bold" font-size="12.8">9.000</text>
<text x="541" y="245" font-family='"Liberation Sans", sans-serif' font-weight="bold" font-size="12.8">6.000</text>
<text x="541" y="278.5" font-family='"Liberation Sans", sans-serif' font-weight="bold" font-size="12.8">3.000</text>
</svg></body></html>
